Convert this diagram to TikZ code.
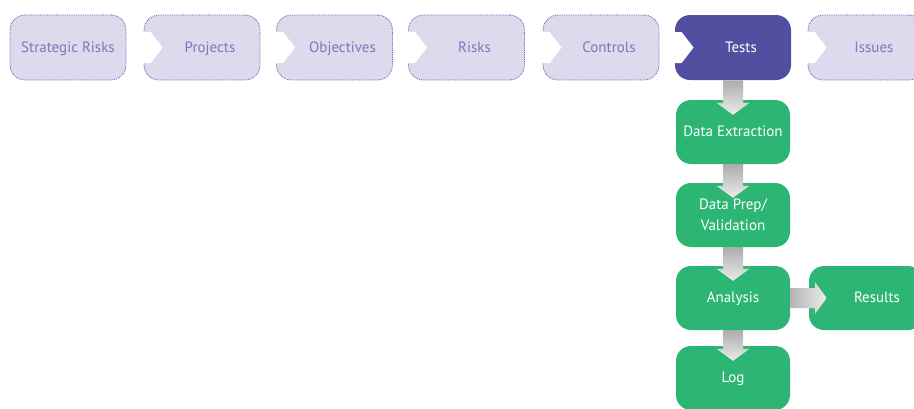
\documentclass[tikz,border=0pt]{standalone}
\usepackage{fontspec}
\setmainfont{PT Sans}
\usetikzlibrary{calc}

\definecolor{stagefill}{HTML}{DCDAEC}
\definecolor{stageline}{HTML}{5E57AE}
\definecolor{stagetext}{HTML}{7E78B9}
\definecolor{testfill}{HTML}{524FA1}
\definecolor{taskgreen}{HTML}{2DB673}

\tikzset{
  stage/.style={draw=stageline, densely dotted, line width=0.8pt, fill=stagefill, text=stagetext,
    rounded corners=15pt, minimum width=116pt, minimum height=65pt, inner sep=0pt,
    oneline, font=\fontsize{15}{18}\selectfont},
  oneline/.style={text height=2.3ex, text depth=0.4ex},
  notched/.style={execute at begin node=\hspace{#1}},
  notched/.default=16pt,
  current/.style={stage, draw=none, fill=testfill, text=white},
  taskbox/.style={fill=taskgreen, text=white, rounded corners=15pt,
    minimum width=114pt, minimum height=64pt, inner sep=0pt, align=center,
    font=\fontsize{15}{21}\selectfont},
  grayarrow/.style={top color=gray!65, bottom color=gray!15}
}

\begin{document}
\begin{tikzpicture}[x=1pt,y=-1pt]
  \useasboundingbox (0,0) rectangle (914,408);

  % Top row of stages
  \node[stage] (strat) at (68,47.5) {Strategic Risks};
  \node[stage, notched] (proj) at (202,47.5) {Projects};
  \node[stage, notched] (obj) at (334.5,47.5) {Objectives};
  \node[stage, notched] (risks) at (466.5,47.5) {Risks};
  \node[stage, notched] (ctrl) at (601,47.5) {Controls};
  \node[current, notched] (tests) at (733,47.5) {Tests};
  \node[stage, notched] (issues) at (866,47.5) {Issues};

  % White notches between stages
  \foreach \n in {proj,obj,risks,ctrl,tests,issues}
    \fill[white, shift={(\n.west)}] (-1,-15.5) -- (7,-15.5) -- (19,0) -- (7,15.5) -- (-1,15.5) -- cycle;

  % Test steps
  \node[taskbox, oneline] (extract) at (733,132) {Data Extraction};
  \node[taskbox] (prep) at (733,215) {Data Prep/\\Validation};
  \node[taskbox, oneline] (analysis) at (733,298) {Analysis};
  \node[taskbox, oneline] (log) at (733,378) {Log};
  \node[taskbox, oneline, notched=22pt] (results) at (866,298) {Results};

  % Gray arrows
  \foreach \a/\b in {tests/extract, extract/prep, prep/analysis, analysis/log}
    \shade[grayarrow] ($(\a.south)+(-10,0)$) |- ($(\b.north)+(-16.5,3)$) -- ($(\b.north)+(0,15)$)
      -- ($(\b.north)+(16.5,3)$) -| ($(\a.south)+(10,0)$) -- cycle;
  \shade[left color=gray!60, right color=gray!15] ($(analysis.east)+(0,-10)$) -| ($(results.west)+(6,-16)$)
    -- ($(results.west)+(18,0)$) -- ($(results.west)+(6,16)$) |- ($(analysis.east)+(0,10)$) -- cycle;
\end{tikzpicture}
\end{document}
